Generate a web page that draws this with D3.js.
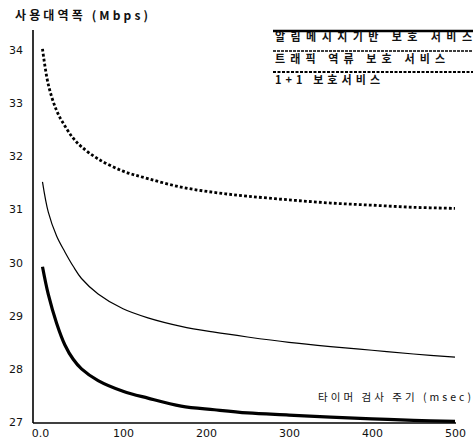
<!DOCTYPE html>
<html><head><meta charset="utf-8">
<script src="https://cdn.jsdelivr.net/npm/d3@7"></script>
<style>
body{margin:0;background:#fff;}
svg{display:block;}
</style></head>
<body>
<svg id="c" width="475" height="446"></svg>
<script>
const xValues = [3, 10, 20, 30, 40, 50, 70, 100, 130, 170, 210, 250, 300, 350, 400, 450, 500];
const alarmSeries   = [29.92, 29.40, 28.86, 28.45, 28.18, 28.00, 27.78, 27.58, 27.45, 27.30, 27.23, 27.17, 27.13, 27.09, 27.06, 27.03, 27.01];
const reverseSeries = [31.52, 30.95, 30.50, 30.20, 29.93, 29.70, 29.41, 29.13, 28.96, 28.80, 28.69, 28.60, 28.50, 28.42, 28.35, 28.28, 28.22];
const onePlusOne    = [34.02, 33.35, 32.86, 32.57, 32.34, 32.18, 31.95, 31.72, 31.58, 31.42, 31.32, 31.25, 31.18, 31.12, 31.08, 31.04, 31.02];
const seriesNames = ["알림메시지기반 보호 서비스", "트래픽 역류 보호 서비스", "1+1 보호서비스"];
const xTicks = [0, 100, 200, 300, 400, 500];
const yTicks = [27, 28, 29, 30, 31, 32, 33, 34];
const yTitle = "사용대역폭 (Mbps)";
const xTitle = "타이머 검사 주기 (msec)";

const svg = d3.select("#c");
const x = d3.scaleLinear().domain([0, 500]).range([40, 455]);
const y = d3.scaleLinear().domain([27, 34]).range([422, 50]);
const axisX = 33, axisY = 423;
const numFont = "DejaVu Sans, Verdana, sans-serif";
const krFont = "'Noto Sans CJK KR', sans-serif";

// axis frame
svg.append("line").attr("x1", axisX).attr("x2", axisX).attr("y1", 30).attr("y2", axisY)
  .attr("stroke", "#000").attr("stroke-width", 1.6);
svg.append("line").attr("x1", axisX).attr("x2", x(500) + 1).attr("y1", axisY).attr("y2", axisY)
  .attr("stroke", "#000").attr("stroke-width", 1.6);

const gy = svg.append("g").attr("transform", `translate(${axisX},0)`)
  .call(d3.axisLeft(y).tickValues(yTicks).tickSize(0).tickPadding(10).tickFormat(d3.format("d")));
gy.select(".domain").remove();
gy.selectAll("text").attr("font-family", numFont).attr("font-size", 11).attr("fill", "#111");

const gx = svg.append("g").attr("transform", `translate(0,${axisY})`)
  .call(d3.axisBottom(x).tickValues(xTicks).tickSize(0).tickPadding(6)
    .tickFormat(d => d === 0 ? "0.0" : d3.format("d")(d)));
gx.select(".domain").remove();
gx.selectAll("text").attr("font-family", numFont).attr("font-size", 11).attr("fill", "#111");

// curves
const styles = [
  {data: alarmSeries, w: 3.2, dash: null},
  {data: reverseSeries, w: 1.2, dash: null},
  {data: onePlusOne, w: 2.8, dash: "2.8,2.2"}
];
const line = d3.line().x(d => x(d[0])).y(d => y(d[1])).curve(d3.curveCatmullRom.alpha(0.5));
styles.forEach(s => {
  svg.append("path").datum(xValues.map((v, i) => [v, s.data[i]]))
    .attr("d", line).attr("fill", "none").attr("stroke", "#000")
    .attr("stroke-width", s.w).attr("stroke-dasharray", s.dash);
});

// titles
svg.append("text").attr("x", 15).attr("y", 20).text(yTitle)
  .attr("font-family", krFont).attr("font-size", 12).attr("font-weight", "bold")
  .attr("textLength", 133).attr("lengthAdjust", "spacing").attr("fill", "#111");
svg.append("text").attr("x", 318).attr("y", 401).text(xTitle)
  .attr("font-family", krFont).attr("font-size", 10.5)
  .attr("textLength", 153).attr("lengthAdjust", "spacing").attr("fill", "#111");

// legend
const legend = [
  {ly: 31, ty: 41, w: 2.4, dash: null, len: 197},
  {ly: 51, ty: 63, w: 1.3, dash: "3,1", len: 170},
  {ly: 72, ty: 84, w: 2, dash: "3,1.5", len: 105}
];
legend.forEach((l, i) => {
  svg.append("line").attr("x1", 273).attr("x2", 473).attr("y1", l.ly).attr("y2", l.ly)
    .attr("stroke", "#000").attr("stroke-width", l.w).attr("stroke-dasharray", l.dash);
  svg.append("text").attr("x", 275).attr("y", l.ty).text(seriesNames[i])
    .attr("font-family", krFont).attr("font-size", 11).attr("font-weight", "bold")
    .attr("textLength", l.len).attr("lengthAdjust", "spacing").attr("fill", "#111");
});
</script>
</body></html>
